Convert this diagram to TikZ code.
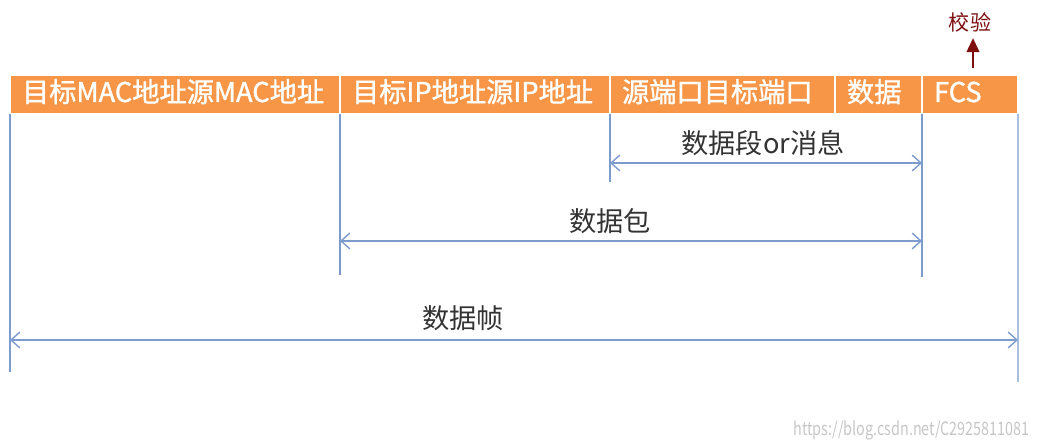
\documentclass[tikz,border=0pt]{standalone}
\usepackage{fontspec}
\setmainfont{Noto Sans CJK SC}
\newfontfamily\barfont[FakeBold=1.3]{Noto Sans CJK SC}
\usetikzlibrary{arrows.meta}
\definecolor{barorange}{RGB}{247,150,70}
\definecolor{dimblue}{RGB}{125,155,205}
\definecolor{checkred}{RGB}{125,15,15}

\begin{document}
\begin{tikzpicture}
  [x=0.02cm,y=-0.02cm,
   cell/.style={rectangle,fill=barorange,draw=white,line width=0.8pt,outer sep=0pt,
     minimum height=0.78cm,inner xsep=0.24cm,align=left,anchor=west,text=white,
     text height=0.38cm,text depth=0.08cm,font=\barfont\fontsize{15.5}{16}\selectfont},
   dim/.style={draw=dimblue,line width=0.8pt},
   span/.style={dim,{Straight Barb[length=5pt,width=9pt]}-{Straight Barb[length=5pt,width=9pt]}},
   lbl/.style={font=\fontsize{15.5}{16}\selectfont,text=black!80}]
  \useasboundingbox (0,0) rectangle (1041,448);

  % the frame bar
  \node[cell,text width=6.12cm] (mac) at (10,94.5) {目标MAC地址源MAC地址};
  \node[cell,text width=4.92cm] (ip) at (340,94.5) {目标IP地址源IP地址};
  \node[cell,text width=4.02cm] (port) at (610,94.5) {源端口目标端口};
  \node[cell,text width=1.26cm] (data) at (835,94.5) {数据};
  \node[cell,text width=1.44cm] (fcs) at (922,94.5) {FCS};

  % feet of the guide lines
  \coordinate (macFoot) at (10,372);
  \coordinate (ipFoot) at (340,275);
  \coordinate (portFoot) at (610,182);
  \coordinate (fcsFoot) at (922,277);
  \coordinate (endFoot) at (1018,382);

  \foreach \from/\to in {mac.south west/macFoot,ip.south west/ipFoot,
      port.south west/portFoot,fcs.south west/fcsFoot,fcs.south east/endFoot}
    \draw[dim] (\from) -- (\to);

  % spans
  \coordinate (segL) at (610,163);
  \coordinate (segR) at (922,163);
  \coordinate (pktL) at (340,241);
  \coordinate (pktR) at (922,241);
  \coordinate (frmL) at (10,340);
  \coordinate (frmR) at (1018,340);

  \foreach \from/\to in {segL/segR,pktL/pktR,frmL/frmR}
    \draw[span] (\from) -- (\to);

  \node[lbl] (seg) at (763,143) {数据段or消息};
  \node[lbl] (pkt) at (610,221) {数据包};
  \node[lbl] (frm) at (463,318) {数据帧};

  % checksum note
  \node[text=checkred,font=\fontsize{12}{12}\selectfont] (check) at (970,22) {校验};
  \coordinate (checkFoot) at (973,68);
  \draw[checkred,line width=1.6pt,-{Triangle[length=8pt,width=7pt]}]
    (checkFoot) -- (checkFoot |- check.south);

  \node[anchor=east,text=gray!45,font=\fontsize{10.5}{11}\selectfont] (mark) at (1036,430)
    {\scalebox{0.78}[1]{https://blog.csdn.net/C2925811081}};

\end{tikzpicture}
\end{document}
